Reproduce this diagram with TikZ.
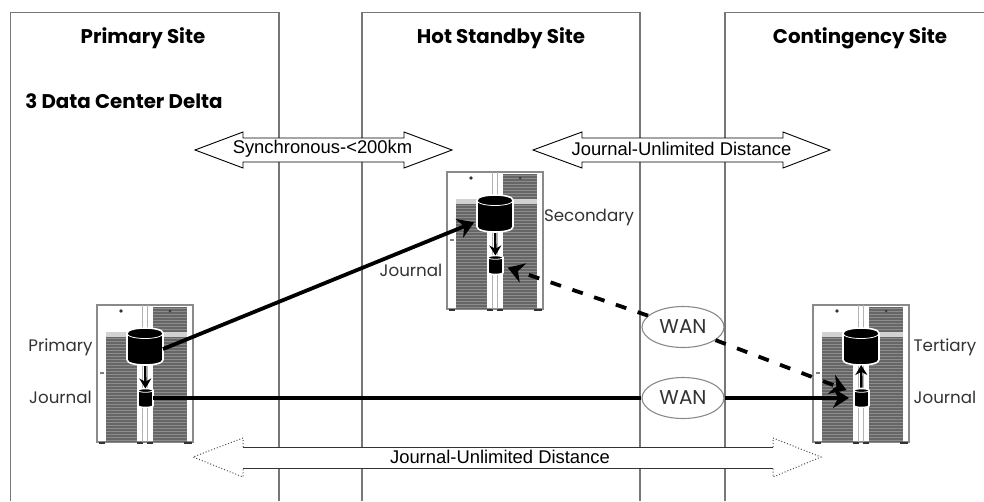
\documentclass[tikz,border=0pt]{standalone}
\usepackage{fontspec}
\setmainfont{Liberation Sans}
\newfontfamily\headfont{Poppins}[BoldFont={Poppins Bold}]
\usetikzlibrary{arrows.meta,shapes.geometric}
\definecolor{sitegray}{HTML}{777777}
\definecolor{rackline}{HTML}{8A8A8A}
\definecolor{panelgray}{HTML}{666666}
\definecolor{stripegray}{HTML}{8C8C8C}
\definecolor{textgray}{HTML}{333333}
\tikzset{
  x=1pt,y=-1pt,
  sitebox/.style={draw=sitegray,line width=1.2pt},
  heading/.style={font=\headfont\bfseries\fontsize{19.8}{22}\selectfont,text=black,inner sep=0pt},
  rackbox/.style={draw=rackline,line width=1.1pt,fill=white},
  bigdisk/.style={rectangle,minimum width=36pt,minimum height=37pt,inner sep=0pt,outer sep=0pt},
  smalldisk/.style={rectangle,minimum width=15pt,minimum height=19pt,inner sep=0pt,outer sep=0pt},
  innerflow/.style={draw=black,line width=2.4pt,-{Stealth[length=10pt,width=12pt]}},
  bigflow/.style={draw=black,line width=3.8pt,-{Stealth[length=16pt,width=20pt]}},
  plainflow/.style={draw=black,line width=3.8pt},
  dashflow/.style={draw=black,line width=3.8pt,dash pattern=on 11pt off 12pt,-{Stealth[length=16pt,width=20pt]}},
  wancloud/.style={ellipse,draw=rackline,line width=1.1pt,fill=white,minimum width=82pt,minimum height=41pt,inner sep=0pt,font=\headfont\fontsize{20}{22}\selectfont,text=textgray},
  sidelabel/.style={font=\headfont\fontsize{16.7}{18}\selectfont,text=textgray,inner sep=0pt},
  spanarrow/.style={draw=black,line width=0.9pt,fill=white},
  spantext/.style={font=\fontsize{18.4}{20}\selectfont,text=black,inner sep=0pt},
}
% #1 cx, #2 cy, #3 half width, #4 half height, #5 ellipse control offset
\newcommand{\diskshape}[5]{%
  \begin{scope}[shift={(#1,#2)}]
    \pgfmathsetmacro{\dtop}{-#4+#5*0.75}
    \pgfmathsetmacro{\dbot}{#4-#5*0.75}
    \pgfmathsetmacro{\dtc}{\dtop-#5}
    \pgfmathsetmacro{\dbc}{\dbot+#5}
    \pgfmathsetmacro{\dfc}{\dtop+#5}
    \draw[fill=black,draw=white,line width=1.6pt] (-#3,\dtop) .. controls (-#3,\dtc) and (#3,\dtc) .. (#3,\dtop) -- (#3,\dbot) .. controls (#3,\dbc) and (-#3,\dbc) .. (-#3,\dbot) -- cycle;
    \draw[white,line width=0.8pt] (-#3,\dtop) .. controls (-#3,\dfc) and (#3,\dfc) .. (#3,\dtop);
  \end{scope}%
}
\newcommand{\serverrack}[3]{%
  \begin{scope}[shift={(#2,#3)}]
    \draw[rackbox] (0,0) rectangle (96,137);
    \fill[panelgray] (9,32) rectangle (40,137);
    \fill[panelgray] (56,2) rectangle (90,137);
    \foreach \yy in {3,6,...,135} {\draw[stripegray,line width=0.8pt] (56,\yy) -- (90,\yy);}
    \foreach \yy in {33,36,...,135} {\draw[stripegray,line width=0.8pt] (9,\yy) -- (40,\yy);}
    \fill[gray!35] (9,27) rectangle (90,32);
    \fill[white] (40,27) rectangle (56,32);
    \draw[gray!60,line width=0.8pt] (45,0) -- (45,137);
    \draw[gray!60,line width=0.8pt] (50,0) -- (50,137);
    \fill[black!80] (24,6) circle (1.8pt);
    \fill[panelgray!60!black] (73,6) circle (1.5pt);
    \fill[gray] (3,67) rectangle (7,68.5);
    \foreach \fa/\fb in {2/8,40/46,50/56,87/95} {\draw[black!80,line width=1.4pt] (\fa,138) -- (\fb,138);}
    \diskshape{48}{41.5}{18}{18.5}{7}
    \diskshape{48.5}{93}{7.5}{9.5}{2.5}
    \node[bigdisk] (#1-disk) at (48,41.5) {};
    \node[smalldisk] (#1-jrnl) at (48.5,93) {};
  \end{scope}%
}
\begin{document}
\begin{tikzpicture}
\useasboundingbox (0,0) rectangle (984,501);
\fill[white] (0,0) rectangle (984,501);
% sites
\draw[sitebox] (10.5,501) -- (10.5,12.5) -- (279,12.5) -- (279,501);
\draw[sitebox] (362,501) -- (362,12.5) -- (640,12.5) -- (640,501);
\draw[sitebox] (725,501) -- (725,12.5) -- (984,12.5);
\node[heading] (h1) at (143,38) {Primary Site};
\node[heading] (h2) at (501,38) {Hot Standby Site};
\node[heading] (h3) at (860,38) {Contingency Site};
\node[heading] (h4) at (124,101) {3 Data Center Delta};
% span arrows
\draw[spanarrow] (195,150) -- (243,132) -- (243,138) -- (404,138) -- (404,132) -- (452,150) -- (404,168) -- (404,162) -- (243,162) -- (243,168) -- cycle;
\node[spantext] (s1) at (322.5,149) {Synchronous-<200km};
\draw[spanarrow] (533,150) -- (582,132) -- (582,138) -- (783,138) -- (783,132) -- (830,150) -- (783,168) -- (783,162) -- (582,162) -- (582,168) -- cycle;
\node[spantext] (s2) at (681.5,149) {Journal-Unlimited Distance};
\fill[white] (193,457) -- (243,438) -- (243,447) -- (773,447) -- (773,438) -- (821,457) -- (773,477) -- (773,468) -- (243,468) -- (243,477) -- cycle;
\draw[black!80,line width=1pt] (243,447) -- (773,447) (243,468) -- (773,468);
\draw[black!70,line width=1pt,dotted] (243,447) -- (243,438) -- (193,457) -- (243,477) -- (243,468);
\draw[black!70,line width=1pt,dotted] (773,447) -- (773,438) -- (821,457) -- (773,477) -- (773,468);
\node[spantext] (s3) at (500,457) {Journal-Unlimited Distance};
% racks
\serverrack{p}{97}{305}
\serverrack{s}{447}{172}
\serverrack{t}{813}{305}
% labels
\node[sidelabel] (l1) at (60.5,347) {Primary};
\node[sidelabel] (l2) at (60.5,397) {Journal};
\node[sidelabel] (l3) at (589,217) {Secondary};
\node[sidelabel] (l4) at (411,270) {Journal};
\node[sidelabel] (l5) at (945,347) {Tertiary};
\node[sidelabel] (l6) at (945,397) {Journal};
% WAN
\node[wancloud] (w1) at (683,327) {WAN};
\node[wancloud] (w2) at (683,398) {WAN};
% flows
\draw[innerflow,shorten <=1pt] (p-disk) -- (p-jrnl);
\draw[innerflow,shorten <=1pt] (s-disk) -- (s-jrnl);
\draw[innerflow,shorten <=1pt] (t-jrnl) -- (t-disk);
\draw[bigflow,shorten >=3pt] (p-disk.-8) -- (s-disk.203);
\draw[plainflow] (p-jrnl.east) -- (w2.west);
\draw[bigflow,shorten >=5pt] (w2.east) -- (t-jrnl.west);
\draw[dashflow,shorten >=5pt] (w1.162) -- (s-jrnl.-8);
\draw[dashflow,shorten >=8pt] (w1.-22) -- (t-jrnl.146);
\end{tikzpicture}
\end{document}
